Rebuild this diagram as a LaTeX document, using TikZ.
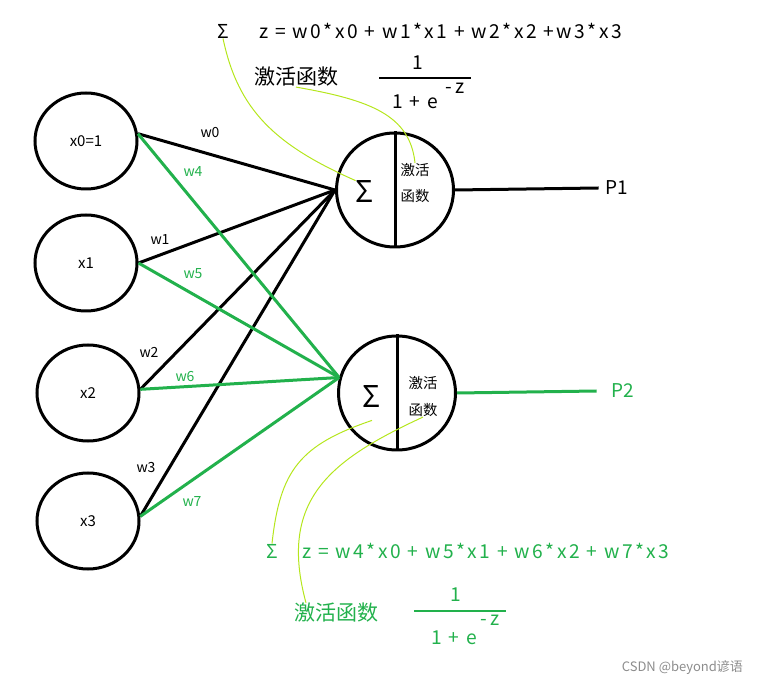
\documentclass[tikz,border=0pt]{standalone}
\usepackage{fontspec}
\setmainfont{Noto Sans CJK SC}
\newfontfamily\widefont[LetterSpace=13]{Noto Sans CJK SC}
\usepackage{xcolor}
\usetikzlibrary{shapes.geometric}
\definecolor{wgreen}{RGB}{34,177,76}
\definecolor{wlime}{RGB}{181,230,29}
\tikzset{
	innode/.style={draw,ellipse,line width=1.5pt,minimum width=51pt,minimum height=48pt,inner sep=0pt,font=\fontsize{7.5}{9}\selectfont},
	neuron/.style={draw,ellipse,line width=1.5pt,minimum width=58.5pt,minimum height=57pt},
	wlab/.style={font=\fontsize{7}{8}\selectfont,inner sep=0pt},
	link/.style={line width=1.5pt},
	hint/.style={wlime,line width=0.5pt},
	big/.style={font=\widefont\fontsize{9.6}{11}\selectfont,inner sep=0pt},
	cn/.style={font=\fontsize{10.5}{12}\selectfont,inner sep=0pt},
}
\begin{document}
\begin{tikzpicture}[x=0.5pt,y=-0.5pt]
	\useasboundingbox (0,0) rectangle (764,688);
	% input layer
	\node[innode] (x0) at (86,141) {x0=1};
	\node[innode] (x1) at (86,263) {x1};
	\node[innode] (x2) at (88,393) {x2};
	\node[innode] (x3) at (88,521) {x3};
	% two neurons
	\node[neuron] (n1) at (395,190) {};
	\node[neuron] (n2) at (397,393) {};
	\draw[link] (n1.north) -- (n1.south);
	\draw[link] (n2.north) -- (n2.south);
	\node[font=\fontsize{15}{16}\selectfont,inner sep=0pt] (s1) at (365,192) {Σ};
	\node[font=\fontsize{15}{16}\selectfont,inner sep=0pt] (s2) at (372,397) {Σ};
	\node[font=\fontsize{7.2}{8}\selectfont,inner sep=0pt] (a1) at (415,170) {激活};
	\node[font=\fontsize{7.2}{8}\selectfont,inner sep=0pt] (f1) at (415,196) {函数};
	\node[font=\fontsize{7.2}{8}\selectfont,inner sep=0pt] (a2) at (423,383) {激活};
	\node[font=\fontsize{7.2}{8}\selectfont,inner sep=0pt] (f2) at (423,410) {函数};
	% weights to neuron 1
	\draw[link] (x0.8) -- (n1.west);
	\draw[link] (x1.east) -- (n1.west);
	\draw[link] (x2.4) -- (n1.west);
	\draw[link] (x3.5) -- (n1.west);
	% weights to neuron 2
	\draw[link,wgreen] (x0.8) -- (n2.165);
	\draw[link,wgreen] (x1.east) -- (n2.165);
	\draw[link,wgreen] (x2.4) -- (n2.165);
	\draw[link,wgreen] (x3.5) -- (n2.165);
	\node[wlab] (w0) at (210,133) {w0};
	\node[wlab] (w1) at (160,240) {w1};
	\node[wlab] (w2) at (149,352) {w2};
	\node[wlab] (w3) at (146,468) {w3};
	\node[wlab,wgreen] (w4) at (193,172) {w4};
	\node[wlab,wgreen] (w5) at (193,274) {w5};
	\node[wlab,wgreen] (w6) at (185,377) {w6};
	\node[wlab,wgreen] (w7) at (192,502) {w7};
	% outputs
	\node[font=\fontsize{9.5}{11}\selectfont] (P1) at (617,188) {P1};
	\node[font=\fontsize{9.5}{11}\selectfont,wgreen] (P2) at (623,391) {P2};
	\draw[link] (n1.east) -- (P1.west);
	\draw[link,wgreen] (n2.east) -- ([xshift=-4pt]P2.west);
	% formulas of neuron 1
	\node[big] (sigtop) at (223,31) {Σ};
	\node[big,anchor=west] (ztop) at (259,31) {z = w0*x0 + w1*x1 + w2*x2 +w3*x3};
	\node[cn] (acttop) at (296,77) {激活函数};
	\node[big] (numtop) at (418,63) {1};
	\node[big] (dentop) at (415,102) {1 + e};
	\node[big] (exptop) at (455,88) {-z};
	\draw[line width=1pt] (379,78) -- (471,78);
	% formulas of neuron 2
	\node[big,wgreen] (sigbot) at (272,551) {Σ};
	\node[big,wgreen,anchor=west] (zbot) at (302,551) {z = w4*x0 + w5*x1 + w6*x2 + w7*x3};
	\node[cn,wgreen] (actbot) at (336,613) {激活函数};
	\node[big,wgreen] (numbot) at (456,595) {1};
	\node[big,wgreen] (denbot) at (454,638) {1 + e};
	\node[big,wgreen] (expbot) at (490,620) {-z};
	\draw[line width=1pt,wgreen] (414,611) -- (506,611);
	% pointers
	\draw[hint] (sigtop.south) .. controls (238,110) and (275,145) .. (s1.north west);
	\draw[hint] (acttop.south) .. controls (370,100) and (410,115) .. (a1.north);
	\draw[hint] ([yshift=-6pt]s2.south) .. controls (300,445) and (280,470) .. (sigbot.north);
	\draw[hint] (f2.south) .. controls (330,460) and (278,500) .. ([xshift=-15pt]actbot.north);
	\node[font=\fontsize{6.5}{8}\selectfont,text=black!45,anchor=east] (mark) at (750,668) {CSDN @beyond谚语};
\end{tikzpicture}
\end{document}
